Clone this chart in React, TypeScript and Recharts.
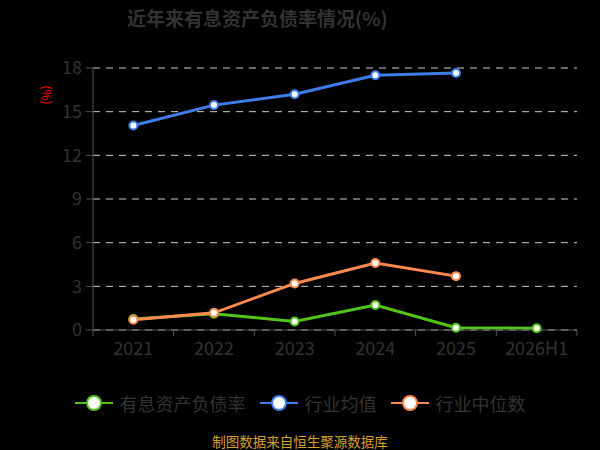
import React from 'react';
import { LineChart, Line, XAxis, YAxis, CartesianGrid } from 'recharts';

const categories = ['2021', '2022', '2023', '2024', '2025', '2026H1'];
const debtRatio = [0.75, 1.12, 0.58, 1.72, 0.15, 0.12];
const industryAvg: (number | null)[] = [14.05, 15.45, 16.2, 17.5, 17.66, null];
const industryMedian: (number | null)[] = [0.7, 1.18, 3.2, 4.6, 3.7, null];
const yTicks = [0, 3, 6, 9, 12, 15, 18];

const series = [
    { key: 'debt', name: '有息资产负债率', color: '#52c41a', values: debtRatio },
    { key: 'avg', name: '行业均值', color: '#3f7ee8', values: industryAvg },
    { key: 'median', name: '行业中位数', color: '#ff8a50', values: industryMedian },
];

const chartData = categories.map((c, i) => {
    const row: Record<string, string | number | null> = { name: c };
    series.forEach(s => { row[s.key] = s.values[i]; });
    return row;
});

const FONT = '"Noto Sans CJK SC", "Noto Sans", sans-serif';
const TEXT = '#333';
const AXIS = '#555';

const W = 600;
const H = 450;
const M = { top: 68, right: 23, bottom: 90, left: 0 };
const Y_W = 93;
const X_H = 30;
const BAND = (W - M.left - Y_W - M.right) / categories.length;

const XTick = (props: any) => {
    const { x, y, payload, index } = props;
    const half = BAND / 2;
    return (
        <g>
            <line x1={x - half} y1={y} x2={x - half} y2={y + 6} stroke={AXIS} />
            {index === categories.length - 1 && (
                <line x1={x + half} y1={y} x2={x + half} y2={y + 6} stroke={AXIS} />
            )}
            <text x={x} y={y + 25} textAnchor="middle" fill={TEXT} fontSize={18} fontFamily={FONT}>
                {payload.value}
            </text>
        </g>
    );
};

const App: React.FC = () => {
    return (
        <div style={{ position: 'absolute', left: 0, top: 0, width: W, height: H, background: '#000', fontFamily: FONT }}>
            <div style={{ position: 'absolute', left: 127, top: 4, fontSize: 19, fontWeight: 700, color: TEXT, whiteSpace: 'nowrap', lineHeight: '28px' }}>
                近年来有息资产负债率情况(%)
            </div>
            <div style={{ position: 'absolute', left: 47, top: 95, transform: 'translate(-50%, -50%) rotate(90deg)', color: '#ff0000', fontSize: 12, whiteSpace: 'nowrap' }}>
                (%)
            </div>
            <LineChart width={W} height={H} data={chartData} margin={M}>
                <CartesianGrid vertical={false} stroke="#cccccc" strokeDasharray="7 6" />
                <XAxis
                    dataKey="name"
                    scale="band"
                    height={X_H}
                    stroke={AXIS}
                    tickLine={false}
                    tickSize={0}
                    tickMargin={0}
                    tick={<XTick />}
                    interval={0}
                />
                <YAxis
                    width={Y_W}
                    domain={[0, 18]}
                    ticks={yTicks}
                    stroke={AXIS}
                    tickSize={7}
                    tickMargin={4}
                    tick={{ fill: TEXT, fontSize: 18, fontFamily: FONT }}
                />
                {series.map(s => (
                    <Line
                        key={s.key}
                        dataKey={s.key}
                        name={s.name}
                        stroke={s.color}
                        strokeWidth={3}
                        dot={{ r: 4, fill: '#fff', stroke: s.color, strokeWidth: 2 }}
                        activeDot={false}
                        isAnimationActive={false}
                        connectNulls={false}
                    />
                ))}
            </LineChart>
            <div style={{ position: 'absolute', left: 0, top: 390, width: W, display: 'flex', justifyContent: 'center', alignItems: 'center' }}>
                {series.map(s => (
                    <div key={s.key} style={{ display: 'flex', alignItems: 'center', margin: '0 7px' }}>
                        <svg width={38} height={26}>
                            <line x1={0} y1={13} x2={38} y2={13} stroke={s.color} strokeWidth={2} />
                            <circle cx={19} cy={13} r={7} fill="#fff" stroke={s.color} strokeWidth={2} />
                        </svg>
                        <span style={{ marginLeft: 7, fontSize: 18, color: TEXT, whiteSpace: 'nowrap' }}>{s.name}</span>
                    </div>
                ))}
            </div>
            <div style={{ position: 'absolute', left: 0, top: 432, width: W, textAlign: 'center', fontSize: 13.5, color: '#d9a030', lineHeight: '18px' }}>
                制图数据来自恒生聚源数据库
            </div>
        </div>
    );
};

export default App;
